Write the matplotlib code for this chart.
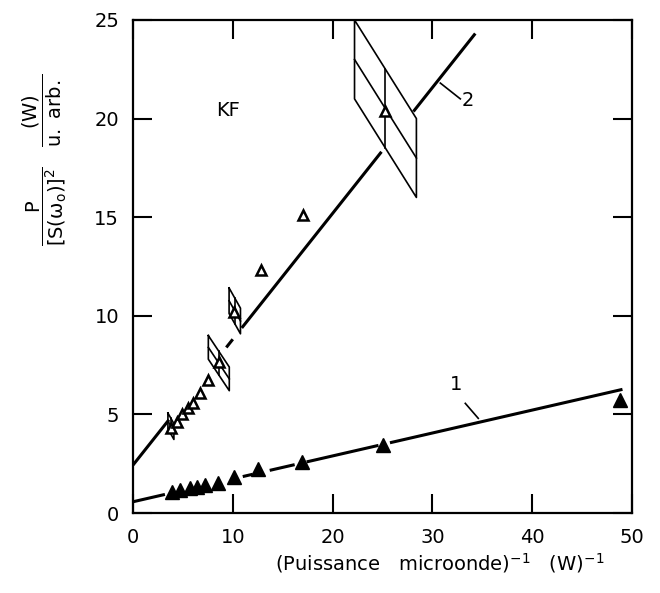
import matplotlib
matplotlib.use('Agg')
import matplotlib.pyplot as plt
import numpy as np

plt.rcParams['font.family'] = ['DejaVu Sans']
plt.rcParams['mathtext.fontset'] = 'dejavusans'
plt.rcParams['mathtext.default'] = 'regular'

# KF data
x_filled = [3.9, 4.7, 5.7, 6.4, 7.2, 8.5, 10.1, 12.5, 16.9, 25.1, 48.8]
y_filled = [1.08, 1.17, 1.25, 1.33, 1.42, 1.54, 1.84, 2.22, 2.57, 3.45, 5.73]

x_open = [3.8, 4.4, 4.9, 5.5, 6.0, 6.7, 7.5, 8.6, 10.1, 12.8, 17.0, 25.3]
y_open = [4.3, 4.6, 5.0, 5.3, 5.6, 6.1, 6.75, 7.65, 10.2, 12.3, 15.1, 20.4]

# fitted lines: intercept, slope, and the drawn pieces (gaps at the points)
line1_coef = (0.57, 0.1162)
line1_pieces = [(0, 3.2), (11.0, 12.0), (13.7, 16.2), (17.4, 24.6), (25.75, 49.05)]
line2_coef = (2.43, 0.638)
line2_pieces = [(0, 3.6), (9.35, 10.0), (10.9, 24.9), (28.1, 34.3)]

# error boxes: centre x, centre y, half width, half height, slant
err_cx = [3.8, 8.6, 10.2, 25.3]
err_cy = [4.4, 7.6, 10.25, 20.5]
err_dx = [0.3, 1.05, 0.57, 3.1]
err_dy = [0.4, 0.6, 0.65, 2.0]
err_k = [0.9, 0.76, 0.9, 0.806]

fig = plt.figure(figsize=(6.6, 5.93), dpi=100)
ax = fig.add_axes([0.2015, 0.1349, 0.756, 0.8314])

for (a, b), pieces in [(line1_coef, line1_pieces), (line2_coef, line2_pieces)]:
    for x0, x1 in pieces:
        xs = np.array([x0, x1])
        ax.plot(xs, a + b * xs, color='black', lw=2.2, solid_capstyle='butt')

for cx, cy, dx, dy, k in zip(err_cx, err_cy, err_dx, err_dy, err_k):
    xl, xr = cx - dx, cx + dx
    yl, yr = cy + k * dx, cy - k * dx
    px = [xl, xr, xr, xl, xl]
    py = [yl + dy, yr + dy, yr - dy, yl - dy, yl + dy]
    ax.plot(px, py, color='black', lw=1.2)
    ax.plot([xl, xr], [yl, yr], color='black', lw=1.2)
    ax.plot([cx, cx], [cy - dy, cy + dy], color='black', lw=1.2)

ax.plot(x_open, y_open, linestyle='none', marker='^', ms=7.5,
        mfc='white', mec='black', mew=1.8, zorder=5)
ax.plot(x_filled, y_filled, linestyle='none', marker='^', ms=9.5,
        mfc='black', mec='black', zorder=5)

# curve labels with leaders
ax.plot([30.8, 32.8], [21.8, 21.0], color='black', lw=1.2)
ax.text(33.6, 20.9, '2', fontsize=14, ha='center', va='center')
ax.plot([33.3, 34.6], [5.56, 4.8], color='black', lw=1.2)
ax.text(32.4, 6.5, '1', fontsize=14, ha='center', va='center')
ax.text(9.55, 20.4, 'KF', fontsize=14, ha='center', va='center')

ax.set_xlim(0, 50)
ax.set_ylim(0, 25)
ax.set_xticks([0, 10, 20, 30, 40, 50])
ax.set_yticks([0, 5, 10, 15, 20, 25])
ax.tick_params(direction='in', length=14, width=1.5, labelsize=14,
               top=True, right=True)
ax.tick_params(axis='x', pad=11)
ax.tick_params(axis='y', pad=10)
for s in ax.spines.values():
    s.set_linewidth(1.6)

ax.set_xlabel(r'(Puissance   microonde)$^{-1}$   (W)$^{-1}$', fontsize=14)
ax.xaxis.set_label_coords(0.615, -0.077)
ax.set_ylabel(r'$\dfrac{P}{[S(\omega_o)]^2}\ \ \ \dfrac{(W)}{u.\ arb.}$', fontsize=14)
ax.yaxis.set_label_coords(-0.128, 0.716)

fig.savefig('out.png', dpi=100)
